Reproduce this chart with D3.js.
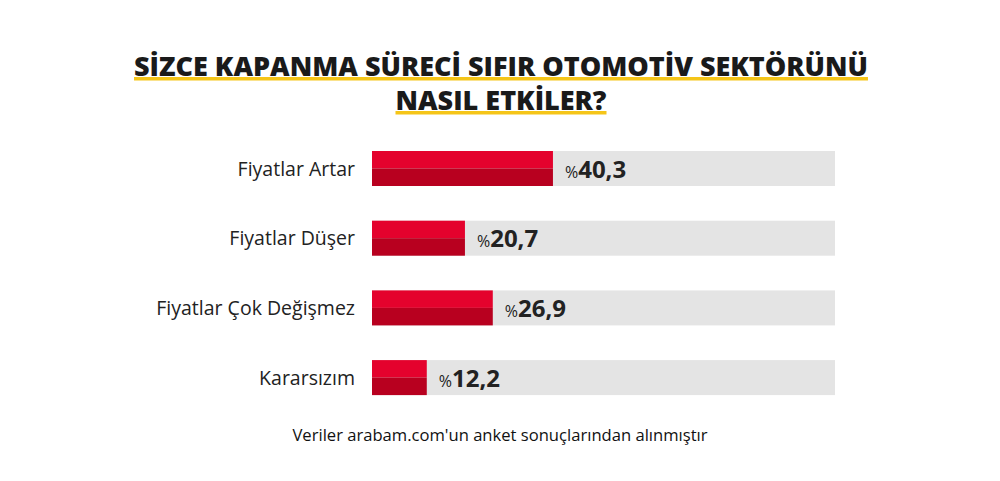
<!DOCTYPE html><html><head><meta charset="utf-8"><script src="https://cdn.jsdelivr.net/npm/d3@7"></script>
<style>body{margin:0;background:#fff}</style></head><body><svg id="c" width="1000" height="481"></svg>
<script>
const categories=["Fiyatlar Artar","Fiyatlar Düşer","Fiyatlar Çok Değişmez","Kararsızım"];
const values=[40.3,20.7,26.9,12.2];
const labels=["40,3","20,7","26,9","12,2"];
const titleLines=["SİZCE KAPANMA SÜRECİ SIFIR OTOMOTİV SEKTÖRÜNÜ","NASIL ETKİLER?"];
const note="Veriler arabam.com'un anket sonuçlarından alınmıştır";
const svg=d3.select("#c");
const x=d3.scaleLinear().domain([0,100]).range([372,821]);
const bh=35;
titleLines.forEach((t,i)=>{
  const ty=76+i*34;
  const tx=svg.append("text").attr("x",501).attr("y",ty).attr("text-anchor","middle")
   .attr("font-family","Open Sans").attr("font-weight",800).attr("font-size",27).attr("fill","#1a1a1a").text(t);
  const w=tx.node().getComputedTextLength();
  svg.insert("rect","text").attr("x",501-w/2).attr("y",ty+1).attr("width",w).attr("height",3.5).attr("fill","#f5c518");
});
const g=svg.append("g");
categories.forEach((c,i)=>{
  const y0=151+i*69.7;
  g.append("rect").attr("x",372).attr("y",y0).attr("width",463).attr("height",bh).attr("fill","#e4e4e4");
  g.append("rect").attr("x",x(0)).attr("y",y0).attr("width",x(values[i])-x(0)).attr("height",bh/2).attr("fill","#e4022d");
  g.append("rect").attr("x",x(0)).attr("y",y0+bh/2).attr("width",x(values[i])-x(0)).attr("height",bh/2).attr("fill","#b8001f");
  g.append("text").attr("x",355).attr("y",y0+bh/2+7).attr("text-anchor","end").attr("font-family","Open Sans").attr("font-size",19.5).attr("fill","#222").text(c);
  const t=g.append("text").attr("x",x(values[i])+12).attr("y",y0+bh/2+9).attr("font-family","Open Sans").attr("fill","#222");
  t.append("tspan").attr("font-size",16).text("%");
  t.append("tspan").attr("font-size",24).attr("font-weight",700).text(labels[i]);
});
svg.append("text").attr("x",500).attr("y",441).attr("text-anchor","middle").attr("font-family","Open Sans").attr("font-size",16.6).attr("fill","#111").text(note);
</script></body></html>
